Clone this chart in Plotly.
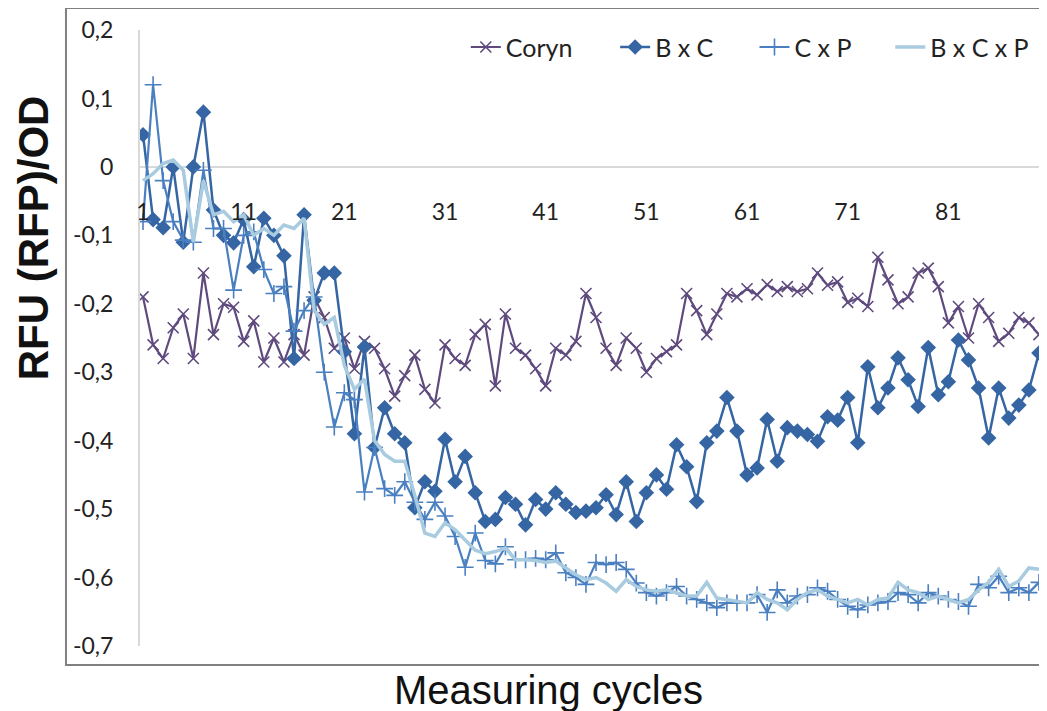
import plotly.graph_objects as go

cycles = list(range(1, 91))

coryn = [-0.19, -0.26, -0.28, -0.235, -0.215, -0.28, -0.155, -0.245, -0.20, -0.205,
         -0.255, -0.225, -0.285, -0.25, -0.285, -0.245, -0.275, -0.19, -0.22, -0.265,
         -0.25, -0.295, -0.255, -0.265, -0.295, -0.335, -0.305, -0.275, -0.325, -0.345,
         -0.26, -0.28, -0.29, -0.245, -0.23, -0.32, -0.215, -0.265, -0.275, -0.295,
         -0.32, -0.265, -0.275, -0.255, -0.185, -0.22, -0.265, -0.29, -0.25, -0.265,
         -0.30, -0.28, -0.27, -0.26, -0.185, -0.21, -0.245, -0.215, -0.185, -0.19,
         -0.178, -0.187, -0.172, -0.182, -0.175, -0.182, -0.178, -0.155, -0.173, -0.168,
         -0.198, -0.192, -0.204, -0.132, -0.165, -0.20, -0.19, -0.155, -0.148, -0.175,
         -0.228, -0.204, -0.25, -0.20, -0.22, -0.255, -0.243, -0.22, -0.228, -0.245]

bxc = [0.047, -0.077, -0.089, 0.0, -0.11, 0.0, 0.08, -0.063, -0.10, -0.111,
       -0.077, -0.146, -0.075, -0.10, -0.13, -0.28, -0.07, -0.195, -0.155, -0.155,
       -0.27, -0.39, -0.263, -0.41, -0.352, -0.39, -0.403, -0.498, -0.46, -0.474,
       -0.398, -0.46, -0.423, -0.476, -0.518, -0.515, -0.483, -0.493, -0.523, -0.486,
       -0.50, -0.476, -0.493, -0.505, -0.503, -0.498, -0.479, -0.508, -0.46, -0.518,
       -0.476, -0.45, -0.471, -0.406, -0.438, -0.489, -0.403, -0.386, -0.337, -0.386,
       -0.45, -0.44, -0.369, -0.43, -0.381, -0.386, -0.391, -0.401, -0.365, -0.37,
       -0.337, -0.403, -0.292, -0.352, -0.323, -0.279, -0.311, -0.35, -0.264, -0.333,
       -0.314, -0.253, -0.282, -0.323, -0.396, -0.323, -0.367, -0.348, -0.326, -0.272]

cxp = [-0.08, 0.12, -0.02, -0.08, -0.107, -0.11, -0.005, -0.09, -0.09, -0.18,
       -0.10, -0.095, -0.15, -0.185, -0.175, -0.24, -0.21, -0.19, -0.30, -0.38,
       -0.33, -0.34, -0.475, -0.41, -0.47, -0.48, -0.46, -0.49, -0.515, -0.49,
       -0.51, -0.54, -0.585, -0.535, -0.575, -0.58, -0.555, -0.574, -0.574, -0.572,
       -0.574, -0.564, -0.593, -0.60, -0.61, -0.578, -0.581, -0.578, -0.588, -0.608,
       -0.622, -0.627, -0.622, -0.613, -0.627, -0.632, -0.637, -0.644, -0.637, -0.637,
       -0.637, -0.625, -0.651, -0.618, -0.637, -0.627, -0.625, -0.615, -0.62, -0.632,
       -0.642, -0.647, -0.64, -0.637, -0.635, -0.622, -0.625, -0.637, -0.622, -0.627,
       -0.632, -0.635, -0.642, -0.61, -0.615, -0.598, -0.622, -0.615, -0.622, -0.607]

bxcxp = [-0.02, -0.01, 0.005, 0.01, -0.005, -0.11, -0.02, -0.07, -0.065, -0.08,
         -0.07, -0.10, -0.09, -0.10, -0.085, -0.09, -0.075, -0.21, -0.23, -0.22,
         -0.29, -0.325, -0.31, -0.40, -0.42, -0.43, -0.43, -0.48, -0.535, -0.54,
         -0.52, -0.53, -0.545, -0.56, -0.565, -0.562, -0.557, -0.574, -0.574, -0.575,
         -0.578, -0.576, -0.586, -0.596, -0.603, -0.60, -0.608, -0.62, -0.603, -0.613,
         -0.618, -0.62, -0.618, -0.622, -0.627, -0.627, -0.607, -0.63, -0.632, -0.635,
         -0.637, -0.622, -0.632, -0.637, -0.647, -0.632, -0.622, -0.618, -0.627, -0.632,
         -0.637, -0.632, -0.64, -0.632, -0.63, -0.607, -0.618, -0.622, -0.632, -0.627,
         -0.632, -0.637, -0.632, -0.618, -0.607, -0.588, -0.613, -0.605, -0.586, -0.588]

x_tick_vals = [1, 11, 21, 31, 41, 51, 61, 71, 81]
y_tick_vals = [0.2, 0.1, 0.0, -0.1, -0.2, -0.3, -0.4, -0.5, -0.6, -0.7]
y_tick_text = ["0,2", "0,1", "0", "-0,1", "-0,2", "-0,3", "-0,4", "-0,5", "-0,6", "-0,7"]

C_CORYN = "#5f4a7e"
C_BXC = "#3565a3"
C_CXP = "#4a7fc0"
C_BXCXP = "#a8cbe0"

fig = go.Figure()
fig.add_trace(go.Scatter(x=cycles, y=coryn, name="Coryn", mode="lines+markers",
                         legend="legend",
                         line=dict(color=C_CORYN, width=2.2),
                         marker=dict(symbol="x-thin", size=11, line=dict(color=C_CORYN, width=1.6))))
fig.add_trace(go.Scatter(x=cycles, y=bxc, name="B x C", mode="lines+markers",
                         legend="legend2",
                         line=dict(color=C_BXC, width=2.5),
                         marker=dict(symbol="diamond", size=12, color=C_BXC)))
fig.add_trace(go.Scatter(x=cycles, y=cxp, name="C x P", mode="lines+markers",
                         legend="legend3",
                         line=dict(color=C_CXP, width=2.2),
                         marker=dict(symbol="cross-thin", size=12, line=dict(color=C_CXP, width=1.6))))
fig.add_trace(go.Scatter(x=cycles, y=bxcxp, name="B x C x P", mode="lines",
                         legend="legend4",
                         line=dict(color=C_BXCXP, width=3.5)))

legend_font = dict(family="Lato", size=25, color="#222222")


def leg(xpos):
    return dict(orientation="h", x=xpos, y=0.972, xanchor="left", yanchor="middle",
                font=legend_font, bgcolor="rgba(0,0,0,0)")


fig.update_layout(
    width=1039, height=703,
    margin=dict(l=132, r=2, t=22, b=65),
    paper_bgcolor="white", plot_bgcolor="white",
    font=dict(family="Lato", color="#222222"),
    showlegend=True,
    legend=leg(0.360),
    legend2=leg(0.525),
    legend3=leg(0.679),
    legend4=leg(0.829),
    xaxis=dict(range=[0.7, 90.6], tickvals=x_tick_vals, ticks="", showgrid=False,
               zeroline=False, showline=False, anchor="free", position=0.73,
               tickfont=dict(family="Lato", size=23, color="#222222")),
    yaxis=dict(range=[-0.7, 0.2], tickvals=y_tick_vals, ticktext=y_tick_text,
               ticks="", showgrid=False, zeroline=True, zerolinecolor="#d9d9d9",
               zerolinewidth=2, showline=True, linecolor="#d9d9d9", linewidth=2,
               ticklabelstandoff=20,
               tickfont=dict(family="Lato", size=23, color="#222222")),
    shapes=[dict(type="rect", xref="paper", yref="paper", x0=-0.0818, x1=1.01,
                 y0=-0.031, y1=1.0357, line=dict(color="#808080", width=2),
                 fillcolor="rgba(0,0,0,0)", layer="below")],
    annotations=[
        dict(text="Measuring cycles", xref="paper", yref="paper", x=0.451, y=-0.0714,
             xanchor="center", yanchor="middle", showarrow=False,
             font=dict(family="Arial", size=40, color="#111111")),
        dict(text="<b>RFU (RFP)/OD</b>", xref="paper", yref="paper", x=-0.1182, y=0.662,
             xanchor="center", yanchor="middle", textangle=-90, showarrow=False,
             borderpad=0,
             font=dict(family="Arial", size=42, color="#111111")),
    ],
)

fig.write_html("out.html")
